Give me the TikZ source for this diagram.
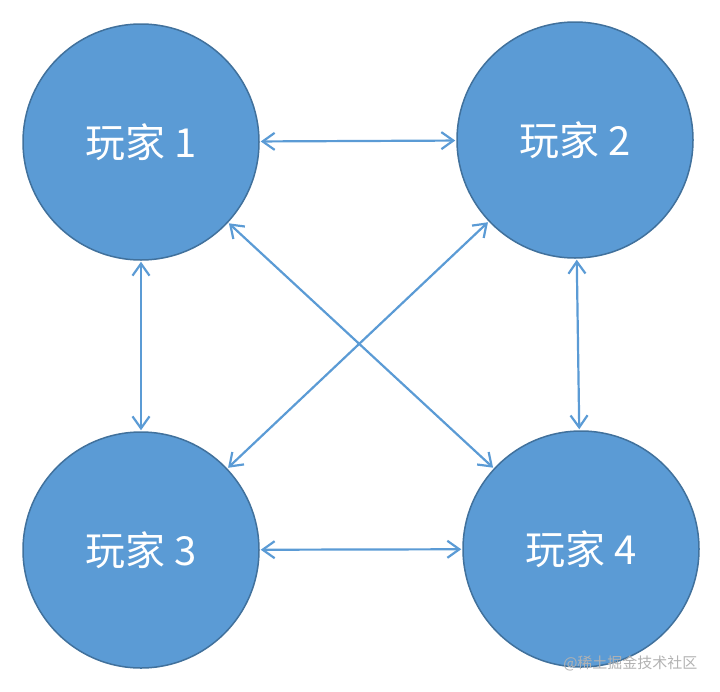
\documentclass[tikz,border=0pt]{standalone}
\usepackage{fontspec}
\newfontfamily\cjk{Noto Sans CJK SC}
\usepackage{tikz}
\usepackage{xcolor}
\usetikzlibrary{
    arrows.meta,
    positioning
}
\definecolor{playerfill}{HTML}{5B9BD5}
\definecolor{playerline}{HTML}{41719C}
\definecolor{linkcol}{HTML}{5B9BD5}

\begin{document}
\begin{tikzpicture}[x=1pt, y=1pt,
    player/.style={circle, fill=playerfill, draw=playerline, line width=1.5pt,
        minimum size=236pt, inner sep=0pt, text=white,
        font=\cjk\fontsize{40}{44}\selectfont},
    link/.style={draw=linkcol, line width=2.2pt,
        {Straight Barb[length=12pt, width=17pt]}-{Straight Barb[length=12pt, width=17pt]},
        shorten <=1pt, shorten >=1pt}
    ]
                        \useasboundingbox (0, 0) rectangle (720, -691);
                        \node[player] (p1) at (141, -142) {玩家 1};
                        \node[player] (p2) at (575, -140) {玩家 2};
                        \node[player] (p3) at (141, -550) {玩家 3};
                        \node[player] (p4) at (581, -549) {玩家 4};
                        \draw[link] (p1) -- (p2);
                        \draw[link] (p1) -- (p3);
                        \draw[link] (p2) -- (p4);
                        \draw[link] (p3) -- (p4);
                        \draw[link] (p1) -- (p4);
                        \draw[link] (p2) -- (p3);
                        \node[text=gray!60, font=\cjk\fontsize{15}{17}\selectfont,
                            anchor=east] (mark) at (701, -663) {@稀土掘金技术社区};
                    \end{tikzpicture}
\end{document}
